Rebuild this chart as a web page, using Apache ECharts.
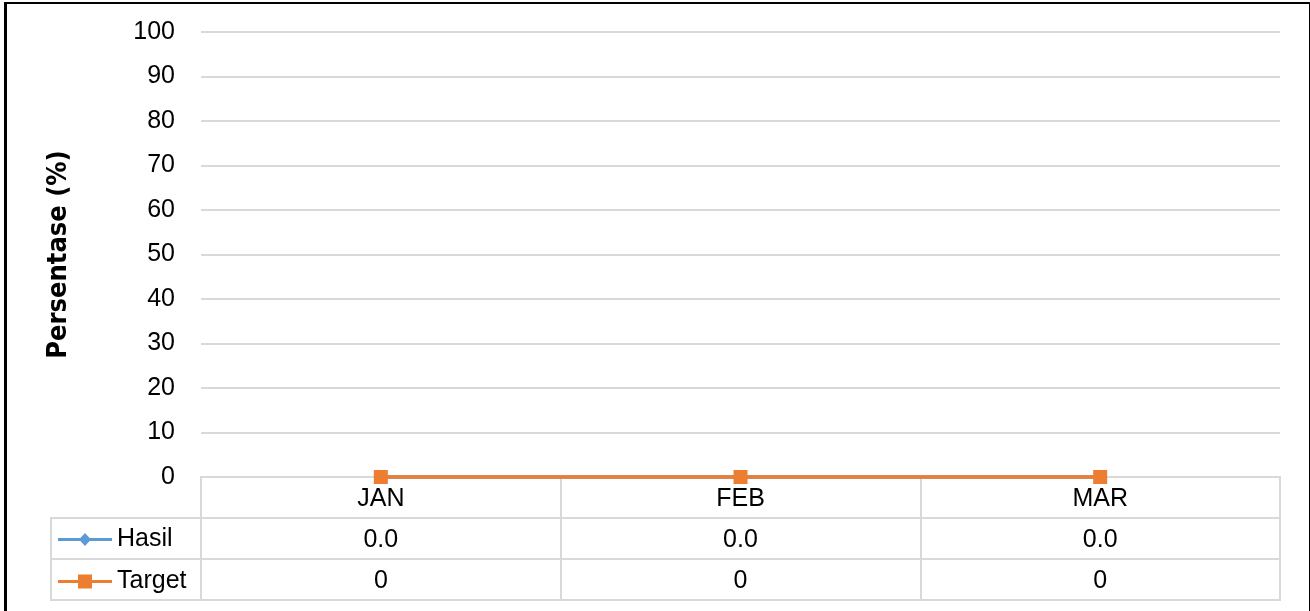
<!DOCTYPE html>
<html>
<head>
<meta charset="utf-8">
<script src="https://cdn.jsdelivr.net/npm/echarts@6/dist/echarts.min.js"></script>
<style>
  body { margin: 0; background: #fff; }
  #echar { position: absolute; left: 0; top: 0; width: 1310px; height: 611px; }
  #frame {
    position: absolute; left: 4px; top: 2px; width: 1302px; height: 700px;
    border: 2px solid #000; border-left-width: 3px; pointer-events: none;
  }
</style>
</head>
<body>
<div id="echar"></div>
<div id="frame"></div>
<script>
// data
var categories = ["JAN", "FEB", "MAR"];
var hasil = [0, 0, 0];
var target = [0, 0, 0];
var seriesNames = ["Hasil", "Target"];
var yMin = 0, yMax = 100, yStep = 10;

var font = "'Liberation Sans', Arial, sans-serif";
var titleFont = "'DejaVu Sans Condensed', 'DejaVu Sans', sans-serif";
var gridColor = "#d9d9d9";
var fs = 25;

// legend icons: line with the series marker in the middle
var iconHasil = "path://M0,5.5H54V8.5H0Z M21,7L27,0.5L33,7L27,13.5Z";
var iconTarget = "path://M0,5.5H54V8.5H0Z M20,0H34V14H20Z";

// cells of the data table below the plot: row 0 = header, 1 = Hasil, 2 = Target
var cells = [];
categories.forEach(function (c, i) {
  cells.push([i, 0, c]);
  cells.push([i, 1, hasil[i].toFixed(1)]);
  cells.push([i, 2, String(target[i])]);
});

var mychart = echarts.init(document.getElementById("echar"));
var option = {
  animation: false,
  textStyle: { fontFamily: font, color: "#000" },
  grid: [
    { left: 201, top: 32, width: 1079, height: 445 },
    { left: 201, top: 477, width: 1079, height: 123, show: true, borderColor: gridColor, borderWidth: 2 },
    { left: 51, top: 518, width: 150, height: 82, show: true, borderColor: gridColor, borderWidth: 2 }
  ],
  legend: {
    data: [
      { name: seriesNames[0], icon: iconHasil },
      { name: seriesNames[1], icon: iconTarget }
    ],
    orient: "vertical",
    left: 58,
    top: 527,
    padding: 0,
    itemWidth: 54,
    itemHeight: 14,
    itemGap: 17,
    textStyle: { fontSize: fs, lineHeight: 24, color: "#000", fontFamily: font }
  },
  xAxis: [
    {
      type: "category",
      gridIndex: 0,
      data: categories,
      boundaryGap: true,
      axisLabel: { show: false },
      axisTick: { show: false },
      axisLine: { lineStyle: { color: gridColor, width: 2 } },
      splitLine: { show: false }
    },
    {
      type: "category",
      gridIndex: 1,
      data: categories,
      boundaryGap: true,
      axisLabel: { show: false },
      axisTick: { show: false },
      axisLine: { show: false },
      splitLine: { show: true, lineStyle: { color: gridColor, width: 2 } }
    },
    {
      type: "value",
      gridIndex: 2,
      show: false
    }
  ],
  yAxis: [
    {
      type: "value",
      gridIndex: 0,
      min: yMin,
      max: yMax,
      interval: yStep,
      axisLine: { show: false },
      axisTick: { show: false },
      axisLabel: { fontSize: fs, color: "#000", margin: 26, fontFamily: font },
      splitLine: { lineStyle: { color: gridColor, width: 2 } },
      name: "Persentase (%)",
      nameLocation: "middle",
      nameGap: 129,
      nameTextStyle: { fontSize: 27, fontWeight: "bold", color: "#000", fontFamily: titleFont }
    },
    {
      type: "category",
      gridIndex: 1,
      data: ["", seriesNames[0], seriesNames[1]],
      inverse: true,
      axisLabel: { show: false },
      axisTick: { show: false },
      axisLine: { show: false },
      splitLine: { show: true, lineStyle: { color: gridColor, width: 2 } }
    },
    {
      type: "category",
      gridIndex: 2,
      data: seriesNames,
      inverse: true,
      axisLabel: { show: false },
      axisTick: { show: false },
      axisLine: { show: false },
      splitLine: { show: true, lineStyle: { color: gridColor, width: 2 } }
    }
  ],
  series: [
    {
      name: seriesNames[0],
      type: "line",
      xAxisIndex: 0,
      yAxisIndex: 0,
      data: hasil,
      symbol: "diamond",
      symbolSize: 13,
      clip: false,
      itemStyle: { color: "#5B9BD5" },
      lineStyle: { color: "#5B9BD5", width: 3.5 }
    },
    {
      name: seriesNames[1],
      type: "line",
      xAxisIndex: 0,
      yAxisIndex: 0,
      data: target,
      symbol: "rect",
      symbolSize: 14,
      clip: false,
      itemStyle: { color: "#ED7D31" },
      lineStyle: { color: "#ED7D31", width: 3.5 }
    },
    {
      name: "table",
      type: "scatter",
      xAxisIndex: 1,
      yAxisIndex: 1,
      data: cells,
      symbolSize: 1,
      itemStyle: { color: "transparent", opacity: 1 },
      label: {
        show: true,
        position: "inside",
        offset: [0, 2],
        formatter: function (p) { return p.value[2]; },
        fontSize: fs,
        color: "#000",
        textBorderWidth: 0,
        fontFamily: font
      },
      silent: true
    }
  ]
};
mychart.setOption(option);
</script>
</body>
</html>
